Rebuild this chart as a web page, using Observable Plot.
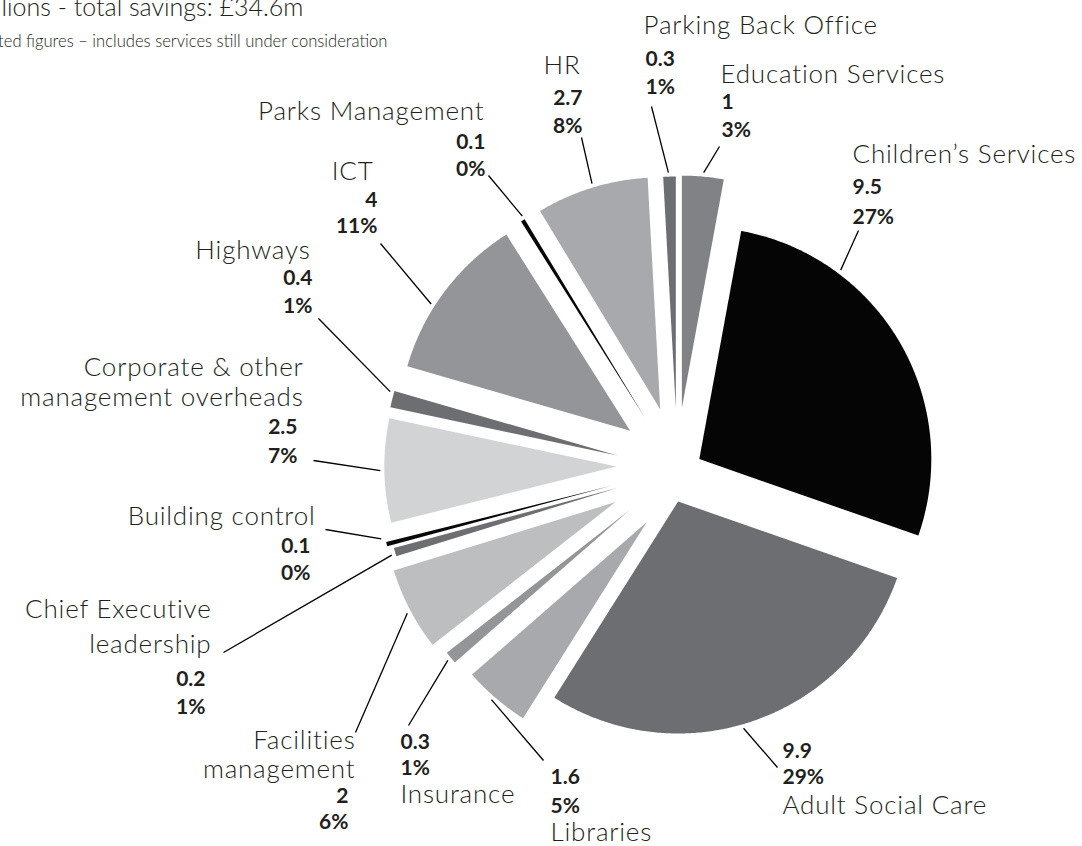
<!DOCTYPE html>
<html>
<head>
<meta charset="utf-8">
<script src="https://cdn.jsdelivr.net/npm/d3@7"></script>
<script src="https://cdn.jsdelivr.net/npm/@observablehq/plot@0.6"></script>
<style>
  html, body { margin: 0; padding: 0; background: #ffffff; }
  #chart svg { display: block; }
  #chart g.slice-name text, #chart g[font-size="26"] text { letter-spacing: 0.8px; }
</style>
</head>
<body>
<div id="chart"></div>
<script>
// ---------------- DATA ----------------
const categories = [
  "Education Services", "Children’s Services", "Adult Social Care", "Libraries",
  "Insurance", "Facilities management", "Chief Executive leadership", "Building control",
  "Corporate & other management overheads", "Highways", "ICT", "Parks Management",
  "HR", "Parking Back Office"
];
const savings = [1, 9.5, 9.9, 1.6, 0.3, 2, 0.2, 0.1, 2.5, 0.4, 4, 0.1, 2.7, 0.3];
const valueLabels = ["1", "9.5", "9.9", "1.6", "0.3", "2", "0.2", "0.1", "2.5", "0.4", "4", "0.1", "2.7", "0.3"];
const shareLabels = ["3%", "27%", "29%", "5%", "1%", "6%", "1%", "0%", "7%", "1%", "11%", "0%", "8%", "1%"];
const nameLines = [
  ["Education Services"], ["Children’s Services"], ["Adult Social Care"], ["Libraries"],
  ["Insurance"], ["Facilities", "management"], ["Chief Executive", "leadership"], ["Building control"],
  ["Corporate & other", "management overheads"], ["Highways"], ["ICT"], ["Parks Management"],
  ["HR"], ["Parking Back Office"]
];
const titleText = "Savings by service area, £ millions - total savings: £34.6m";
const subtitleText = "Estimated figures – includes services still under consideration";

// ---------------- LAYOUT / STYLE ----------------
const W = 1082, H = 846;
const center = [677, 470];
const R = 232;
const sliceColors = ["#808285", "#050505", "#6d6e71", "#a7a9ac", "#939598", "#bcbec0", "#6d6e71",
  "#050505", "#d1d3d4", "#6d6e71", "#939598", "#050505", "#a7a9ac", "#6d6e71"];
// explosion per slice: [distance, direction (deg clockwise from 12 o'clock) or null = bisector]
const explode = [[63, 4], [24.6, 62.4], [31, 178.9], [60, 210.7], [62, null], [69.6, 243], [62, null],
  [68, 257], [61.3, 273.8], [62, null], [61.8, 310], [62, null], [63.4, 344.2], [62, null]];
// label placement per slice
const labelLayout = [
  {nx: 720, ny: [82], na: "start", vx: 721, vy: [108, 136], va: "start", from: [719, 146], at: 5.3},
  {nx: 852, ny: [162], na: "start", vx: 852, vy: [193, 223], va: "start", from: [858, 230], at: 36.8},
  {nx: 782, ny: [813], na: "start", vx: 782, vy: [757, 783], va: "start", from: [777, 767], at: 163.9},
  {nx: 550, ny: [840], na: "start", vx: 550, vy: [783, 812], va: "start", from: [543, 760], at: 221.2},
  {nx: 400, ny: [802], na: "start", vx: 400, vy: [748, 774], va: "start", from: [408, 725], at: 230.4},
  {nx: 355, ny: [748, 777], na: "end", vx: 348, vy: [802, 828], va: "end", from: [355, 732], at: 241.9},
  {nx: 211, ny: [617, 652], na: "end", vx: 205, vy: [685, 713], va: "end", from: [223, 652], at: 253.4},
  {nx: 315, ny: [524], na: "end", vx: 310, vy: [552, 579], va: "end", from: [325, 529], at: 257},
  {nx: 303, ny: [375, 405], na: "end", vx: 297, vy: [433, 462], va: "end", from: [313, 460], at: 269},
  {nx: 310, ny: [258], na: "end", vx: 312, vy: [284, 312], va: "end", from: [318, 318], at: 285.7},
  {nx: 373, ny: [179], na: "end", vx: 377, vy: [206, 232], va: "end", from: [380, 243], at: 302.5},
  {nx: 484, ny: [119], na: "end", vx: 485, vy: [148, 175], va: "end", from: [488, 175], at: 328.7},
  {nx: 580, ny: [73], na: "end", vx: 582, vy: [104, 132], va: "end", from: [581, 137], at: 343.2},
  {nx: 643, ny: [33], na: "start", vx: 645, vy: [65, 93], va: "start", from: [651, 106], at: 358.2}
];
const FONT = "Lato, 'Gill Sans', 'Open Sans', sans-serif";
const TEXT = "#231f20";
const NAME_SIZE = 26, VALUE_SIZE = 21;

// ---------------- GEOMETRY FROM DATA ----------------
const rad = (d) => d * Math.PI / 180;
const total = d3.sum(savings);
let acc = 0;
const slicePts = [];
const offsets = [];
savings.forEach((v, i) => {
  const a0 = acc / total * 2 * Math.PI; acc += v;
  const a1 = acc / total * 2 * Math.PI;
  const mid = (a0 + a1) / 2;
  const [dist, dirDeg] = explode[i];
  const dir = dirDeg == null ? mid : rad(dirDeg);
  const ox = center[0] + dist * Math.sin(dir), oy = center[1] - dist * Math.cos(dir);
  offsets.push([ox, oy]);
  slicePts.push({name: categories[i], x: ox, y: oy});
  const n = Math.max(2, Math.ceil((a1 - a0) / rad(0.5)));
  for (let k = 0; k <= n; k++) {
    const a = a0 + (a1 - a0) * k / n;
    slicePts.push({name: categories[i], x: ox + R * Math.sin(a), y: oy - R * Math.cos(a)});
  }
});

const leaders = categories.map((c, i) => {
  const L = labelLayout[i];
  const [ox, oy] = offsets[i];
  return {x1: L.from[0], y1: L.from[1], x2: ox + (R + 4) * Math.sin(rad(L.at)), y2: oy - (R + 4) * Math.cos(rad(L.at))};
});

const textRows = [];
categories.forEach((c, i) => {
  const L = labelLayout[i];
  nameLines[i].forEach((t, k) => textRows.push({t, x: L.nx, y: L.ny[k], a: L.na, kind: "name"}));
  [valueLabels[i], shareLabels[i]].forEach((t, k) => textRows.push({t, x: L.vx, y: L.vy[k], a: L.va, kind: "value"}));
});
const sel = (kind, a) => textRows.filter((d) => d.kind === kind && d.a === a);

const chart = Plot.plot({
  width: W,
  height: H,
  margin: 0,
  x: {domain: [0, W], range: [0, W], axis: null},
  y: {domain: [0, H], range: [0, H], axis: null},
  color: {domain: categories, range: sliceColors},
  style: {fontFamily: FONT, background: "#ffffff", overflow: "hidden"},
  marks: [
    Plot.line(slicePts, {x: "x", y: "y", z: "name", fill: "name", stroke: "none", curve: "linear-closed"}),
    Plot.link(leaders, {x1: "x1", y1: "y1", x2: "x2", y2: "y2", stroke: "#000", strokeWidth: 1.3}),
    Plot.text(sel("name", "start"), {x: "x", y: "y", text: "t", textAnchor: "start", lineAnchor: "bottom", fontSize: NAME_SIZE, fontWeight: 300, fill: TEXT, className: "slice-name"}),
    Plot.text(sel("name", "end"), {x: "x", y: "y", text: "t", textAnchor: "end", lineAnchor: "bottom", fontSize: NAME_SIZE, fontWeight: 300, fill: TEXT, className: "slice-name"}),
    Plot.text(sel("value", "start"), {x: "x", y: "y", text: "t", textAnchor: "start", lineAnchor: "bottom", fontSize: VALUE_SIZE, fontWeight: 700, fill: TEXT}),
    Plot.text(sel("value", "end"), {x: "x", y: "y", text: "t", textAnchor: "end", lineAnchor: "bottom", fontSize: VALUE_SIZE, fontWeight: 700, fill: TEXT}),
    Plot.text([titleText], {x: () => 303, y: () => 15, text: (d) => d, textAnchor: "end", lineAnchor: "bottom", fontSize: 25, fontWeight: 300, fill: TEXT}),
    Plot.text([subtitleText], {x: () => 387, y: () => 46, text: (d) => d, textAnchor: "end", lineAnchor: "bottom", fontSize: 16.6, fontWeight: 300, fill: TEXT})
  ]
});
document.getElementById("chart").appendChild(chart);
</script>
</body>
</html>
